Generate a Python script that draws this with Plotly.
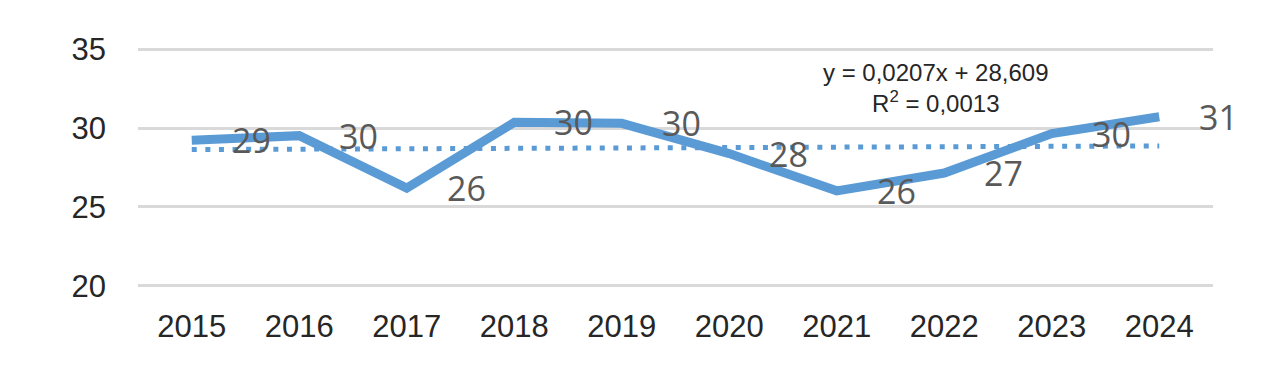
import numpy as np
import plotly.graph_objects as go

years = ["2015", "2016", "2017", "2018", "2019", "2020", "2021", "2022", "2023", "2024"]
values = [29.22, 29.52, 26.2, 30.36, 30.3, 28.38, 26.02, 27.15, 29.65, 30.72]
y_ticks = [20, 25, 30, 35]
equation_text = "y = 0,0207x + 28,609<br>R<sup>2</sup> = 0,0013"

LINE_COLOR = "#5B9BD5"

# linear trend (Excel-style: x = 1..n)
xi = np.arange(1, len(values) + 1)
slope, intercept = np.polyfit(xi, values, 1)
trend = slope * xi + intercept

fig = go.Figure()
fig.add_trace(go.Scatter(
    x=years, y=trend, mode="lines",
    line=dict(color=LINE_COLOR, width=5, dash="5px,8.6px"),
    hoverinfo="skip", showlegend=False,
))
fig.add_trace(go.Scatter(
    x=years, y=values, mode="lines",
    line=dict(color=LINE_COLOR, width=9),
    showlegend=False,
))

for i, v in enumerate(values):
    fig.add_annotation(
        x=i, y=v, text=f"{round(v):d}", showarrow=False,
        xanchor="left", yanchor="middle", xshift=38,
        font=dict(family="Open Sans, sans-serif", size=34, color="#595959"),
    )

fig.add_annotation(
    x=0.742, y=0.829, xref="paper", yref="paper", text=equation_text,
    showarrow=False, xanchor="center", yanchor="middle", align="center",
    font=dict(family="Liberation Sans, Arial, sans-serif", size=24, color="#262626"),
)

fig.update_layout(
    width=1263, height=391,
    margin=dict(l=138, r=50, t=46, b=102),
    paper_bgcolor="white", plot_bgcolor="white",
    font=dict(family="Liberation Sans, Arial, sans-serif", size=30, color="#262626"),
)
fig.update_xaxes(
    type="category", range=[-0.5, 9.5], showgrid=False, zeroline=False,
    showline=False, ticks="", ticklabelstandoff=16,
    tickfont=dict(size=31, color="#262626"),
)
fig.update_yaxes(
    range=[19.8, 35.2], tickvals=y_ticks, showgrid=True, gridcolor="#D9D9D9",
    gridwidth=2.5, zeroline=False, showline=False, ticks="",
    ticklabelstandoff=31, tickfont=dict(size=31, color="#262626"),
)

fig.write_html("out.html", config={"displayModeBar": False},
               post_script="document.body.style.margin='0';")
